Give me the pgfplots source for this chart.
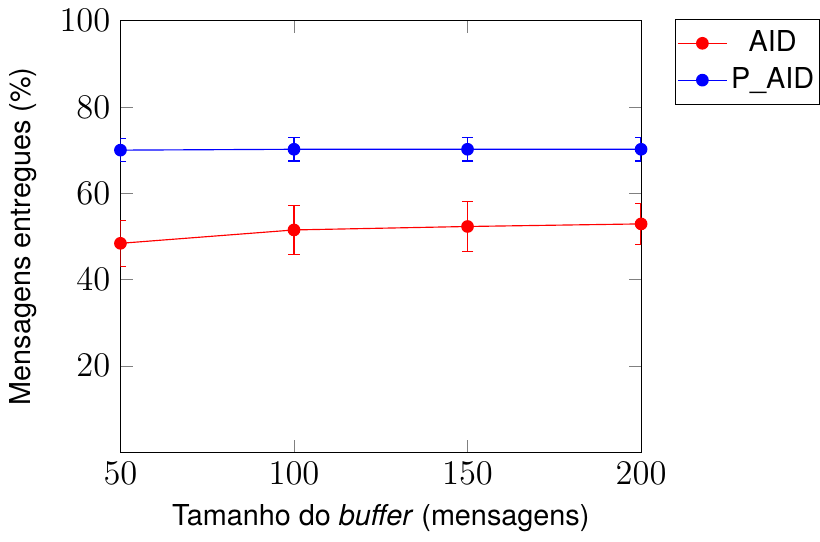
\documentclass[border=0pt]{standalone}
\usepackage{pgfplots}
\pgfplotsset{compat=1.18}
\usepackage{fontspec}
\setmainfont{TeX Gyre Heros}
\begin{document}
\begin{tikzpicture}
\begin{axis}[
  width=180.8pt, height=149.8pt, scale only axis,
  xmin=50, xmax=200, ymin=0, ymax=100,
  xtick={50,100,150,200}, ytick={20,40,60,80,100},
  tick label style={font=\large},
  xlabel={Tamanho do \textit{buffer} (mensagens)},
  ylabel={Mensagens entregues (\%)},
  ylabel style={yshift=1pt},
  legend style={at={(1.065,1.005)}, anchor=north west, font=\normalsize,
    inner xsep=0.6pt, inner ysep=2pt, nodes={inner xsep=1.2pt}},
  legend cell align=center,
]
\addplot[red, mark=*, error bars/.cd, y dir=both, y explicit,
  error bar style={red, line width=0.6pt}] coordinates {
  (50,48.4) +- (0,5.35)
  (100,51.5) +- (0,5.6)
  (150,52.3) +- (0,5.8)
  (200,52.9) +- (0,4.8)
};
\addlegendentry{AID}
\addplot[blue, mark=*, error bars/.cd, y dir=both, y explicit,
  error bar style={blue, line width=0.6pt}] coordinates {
  (50,70.0) +- (0,2.65)
  (100,70.2) +- (0,2.7)
  (150,70.2) +- (0,2.7)
  (200,70.2) +- (0,2.7)
};
\addlegendentry{P\_AID}
\end{axis}
\end{tikzpicture}
\end{document}
